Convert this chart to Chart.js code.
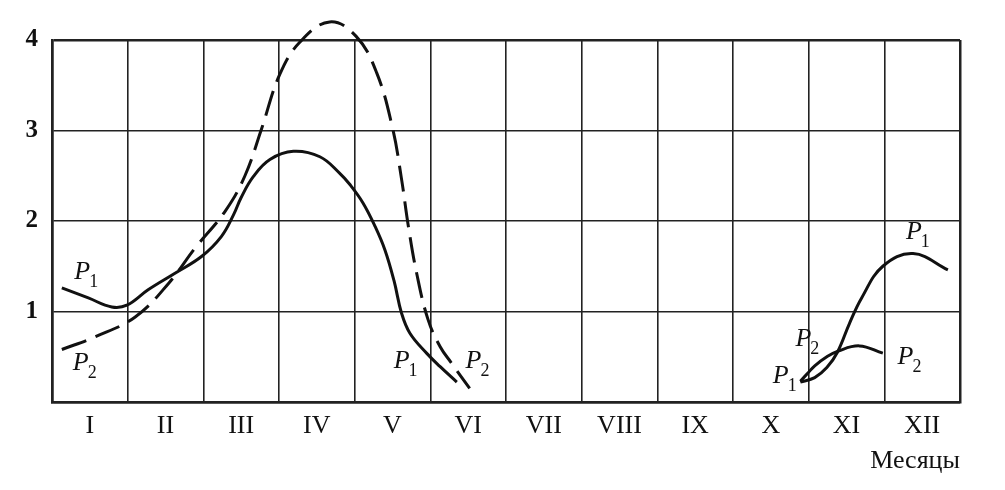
<!DOCTYPE html>
<html><head><meta charset="utf-8">
<script src="https://cdn.jsdelivr.net/npm/chart.js@4/dist/chart.umd.min.js"></script>
<style>html,body{margin:0;padding:0;background:#fff}#wrap{width:1005px;height:490px}</style>
</head><body><div id="wrap"><canvas id="c" width="1005" height="490"></canvas></div>
<script>
const months = ['I','II','III','IV','V','VI','VII','VIII','IX','X','XI','XII'];
const yTicks = [1,2,3,4];
// P1, spring (solid)
const p1SpringX = [0.13,0.48,0.79,0.99,1.27,1.62,1.98,2.24,2.40,2.50,2.66,2.88,3.19,3.54,3.80,3.94,4.11,4.27,4.40,4.52,4.62,4.73,4.95,5.13,5.35];
const p1SpringY = [1.26,1.15,1.05,1.07,1.24,1.42,1.61,1.83,2.07,2.26,2.49,2.68,2.77,2.71,2.53,2.40,2.20,1.94,1.68,1.34,0.98,0.76,0.54,0.39,0.22];
// P2, spring (dashed)
const p2SpringX = [0.13,0.57,1.10,1.54,1.89,2.29,2.55,2.77,3.01,3.28,3.67,4.02,4.29,4.50,4.62,4.71,4.82,4.97,5.13,5.28,5.52];
const p2SpringY = [0.58,0.72,0.94,1.31,1.70,2.11,2.50,3.02,3.62,3.98,4.20,4.04,3.64,3.03,2.46,1.94,1.42,0.91,0.61,0.43,0.15];
// P1, autumn (solid)
const p1AutumnX = [9.89,10.08,10.24,10.38,10.54,10.70,10.98,11.38,11.84];
const p1AutumnY = [0.22,0.27,0.38,0.55,0.87,1.15,1.50,1.64,1.46];
// P2, autumn (solid)
const p2AutumnX = [9.89,9.99,10.08,10.24,10.38,10.67,10.98];
const p2AutumnY = [0.23,0.32,0.40,0.50,0.56,0.62,0.54];
// curve labels: [series number, x, y]
const labelNum = ['1','2','1','2','2','1','1','2'];
const labelX = [0.40,0.38,4.62,5.57,9.93,9.63,11.39,11.28];
const labelY = [1.43,0.43,0.45,0.45,0.69,0.28,1.88,0.49];
const axisTitle = 'Месяцы';

const pts = (xs, ys) => xs.map((x, i) => ({x, y: ys[i]}));
const solid = {borderColor:'#111', borderWidth:3, pointRadius:0, showLine:true, fill:false, tension:0.4, clip:false};

const labelPlugin = {
  id:'curveLabels',
  afterDatasetsDraw(chart){
    const {ctx, scales} = chart;
    ctx.save();
    ctx.fillStyle = '#111';
    ctx.textBaseline = 'middle';
    labelNum.forEach((n, i) => {
      const px = scales.x.getPixelForValue(labelX[i]);
      const py = scales.y.getPixelForValue(labelY[i]);
      ctx.font = 'italic 26px "Liberation Serif"';
      ctx.textAlign = 'center';
      ctx.fillText('P', px, py);
      ctx.font = '18px "Liberation Serif"';
      ctx.textAlign = 'left';
      ctx.fillText(n, px + 7, py + 10);
    });
    ctx.restore();
  }
};

const edge = (ctx, n) => (ctx.tick && (ctx.tick.value === 0 || ctx.tick.value === n)) ? 2.5 : 1.6;

new Chart(document.getElementById('c'), {
  type:'scatter',
  data:{datasets:[
    Object.assign({data:pts(p1SpringX,p1SpringY)}, solid),
    Object.assign({data:pts(p2SpringX,p2SpringY), borderDash:[26,10]}, solid),
    Object.assign({data:pts(p1AutumnX,p1AutumnY)}, solid),
    Object.assign({data:pts(p2AutumnX,p2AutumnY)}, solid)
  ]},
  options:{
    responsive:false, animation:false,
    layout:{padding:{left:0, top:40, right:45, bottom:13}},
    plugins:{legend:{display:false}, tooltip:{enabled:false}},
    scales:{
      x:{type:'linear', position:'bottom', weight:0, min:0, max:12,
        afterBuildTicks:s => { s.ticks = months.map((m,i)=>({value:i})).concat([{value:12}]); },
        afterFit:s => { s.height = 0; },
        ticks:{display:false},
        grid:{color:'#222', lineWidth:c=>edge(c,12), drawTicks:false},
        border:{display:true, color:'#222', width:2.5}
      },
      x2:{type:'linear', position:'bottom', weight:1, min:0, max:12,
        afterBuildTicks:s => { s.ticks = months.map((m,i)=>({value:i+0.5})); },
        afterFit:s => { s.height = 75; },
        ticks:{autoSkip:false, maxRotation:0, padding:9, color:'#111',
          font:{family:'"Liberation Serif"', size:26},
          callback:(v)=>months[Math.floor(v)]},
        grid:{display:false, drawTicks:false},
        border:{display:false},
        title:{display:true, text:axisTitle, align:'end', color:'#111',
          font:{family:'"Liberation Serif"', size:26}, padding:{top:2,bottom:0}}
      },
      y:{type:'linear', min:0, max:4,
        afterBuildTicks:s => { s.ticks = [0].concat(yTicks).map(v=>({value:v})); },
        afterFit:s => { s.width = 52; },
        ticks:{padding:14, color:'#111', font:{family:'"Liberation Serif"', size:25, weight:'bold'},
          callback:v => v === 0 ? '' : String(v)},
        grid:{color:'#222', lineWidth:c=>edge(c,4), drawTicks:false},
        border:{display:true, color:'#222', width:2.5}
      }
    }
  },
  plugins:[labelPlugin]
});
</script></body></html>
